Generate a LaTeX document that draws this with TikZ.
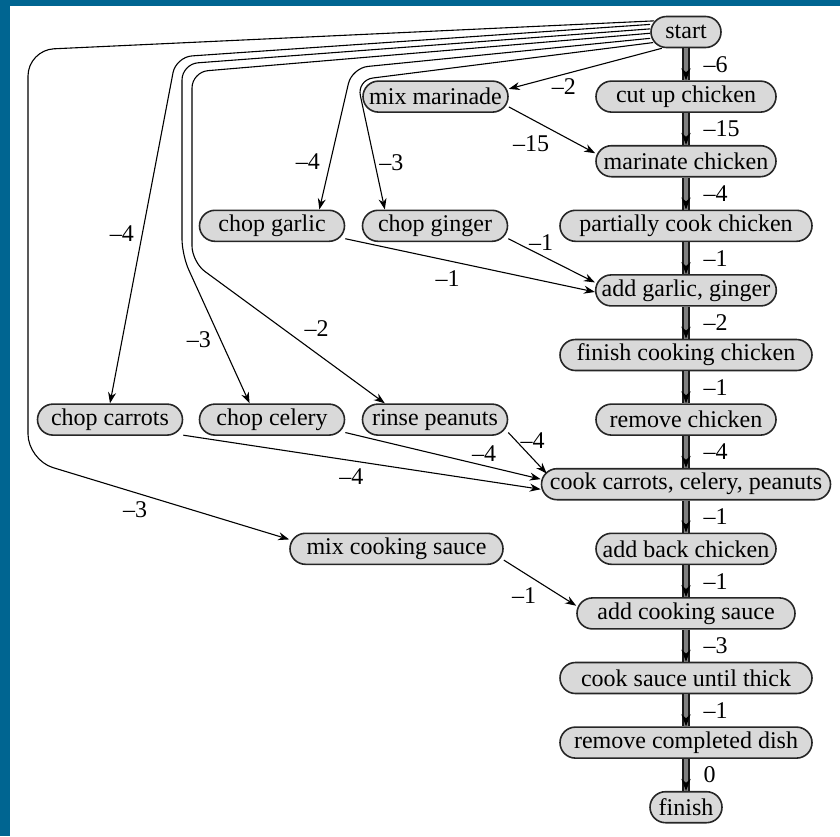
\documentclass[tikz,border=0pt]{standalone}
\usepackage{fontspec}
\setmainfont{Liberation Serif}[Ligatures=TeX]
\newfontfamily\dishfont{Liberation Serif}[Ligatures=TeX]
\usetikzlibrary{positioning,arrows.meta}
\definecolor{frameblue}{RGB}{0,101,145}
\tikzstyle{box}=[rectangle, rounded corners=7.75pt, draw=black!85, line width=0.8pt, fill=gray!30, minimum height=15.5pt, inner xsep=3pt, inner ysep=1pt, font=\dishfont\fontsize{12}{14}\selectfont]
\tikzstyle{wt}=[font=\dishfont\fontsize{12}{14}\selectfont, inner sep=2pt]
\tikzstyle{crit}=[-{Stealth[length=6pt,width=4.6pt,color=black]}, draw=black!50, line width=0.6pt, preaction={draw=black!90, line width=4pt, -}, preaction={draw=black!50, line width=2.4pt, -}]

\begin{document}
\begin{tikzpicture}[x=0.5pt, y=-0.5pt, line width=0.55pt, >={Stealth[length=5.5pt,width=4pt]}]
\useasboundingbox (0,0) rectangle (840,836);
\fill[frameblue] (0,0) rectangle (10,836);
\fill[frameblue] (0,0) rectangle (840,6);

% chicken steps, top to bottom
\node [box, minimum width=35pt] (start) at (686,32) {start};
\node [box, minimum width=90pt, below of=start, node distance=32.3pt] (cutup) {cut up chicken};
\node [box, minimum width=90pt, below of=cutup, node distance=32.3pt] (marinate) {marinate chicken};
\node [box, minimum width=126pt, below of=marinate, node distance=32.3pt] (partial) {partially cook chicken};
\node [box, minimum width=90pt, below of=partial, node distance=32.3pt] (addgg) {add garlic, ginger};
\node [box, minimum width=126pt, below of=addgg, node distance=32.3pt] (finishck) {finish cooking chicken};
\node [box, minimum width=90pt, below of=finishck, node distance=32.3pt] (removeck) {remove chicken};
\node [box, minimum width=144.5pt, below of=removeck, node distance=32.3pt] (cookccp) {cook carrots, celery, peanuts};
\node [box, minimum width=90pt, below of=cookccp, node distance=32.3pt] (addback) {add back chicken};
\node [box, minimum width=109pt, below of=addback, node distance=32.3pt] (addsauce) {add cooking sauce};
\node [box, minimum width=126pt, below of=addsauce, node distance=32.3pt] (cooksauce) {cook sauce until thick};
\node [box, minimum width=126pt, below of=cooksauce, node distance=32.3pt] (removedish) {remove completed dish};
\node [box, minimum width=36pt, below of=removedish, node distance=32.3pt] (finish) {finish};

% side jobs
\node [box, minimum width=72.5pt, left of=cutup, node distance=125.25pt] (mixmar) {mix marinade};
\node [box, minimum width=72.5pt, left of=partial, node distance=125.5pt] (chopginger) {chop ginger};
\node [box, minimum width=72.5pt, left of=chopginger, node distance=81.5pt] (chopgarlic) {chop garlic};
\node [box, minimum width=72.5pt, left of=removeck, node distance=125.5pt] (rinse) {rinse peanuts};
\node [box, minimum width=72.5pt, left of=rinse, node distance=81.5pt] (chopcelery) {chop celery};
\node [box, minimum width=72.5pt, left of=chopcelery, node distance=81pt] (chopcarrots) {chop carrots};
\node [box, minimum width=106.5pt, left of=addback, node distance=144.75pt] (mixsauce) {mix cooking sauce};

% critical path
\draw[crit] (start) -- node[wt, right=6.5pt] {--6} (cutup);
\draw[crit] (cutup) -- node[wt, right=6.5pt] {--15} (marinate);
\draw[crit] (marinate) -- node[wt, right=6.5pt] {--4} (partial);
\draw[crit] (partial) -- node[wt, right=6.5pt] {--1} (addgg);
\draw[crit] (addgg) -- node[wt, right=6.5pt] {--2} (finishck);
\draw[crit] (finishck) -- node[wt, right=6.5pt] {--1} (removeck);
\draw[crit] (removeck) -- node[wt, right=6.5pt] {--4} (cookccp);
\draw[crit] (cookccp) -- node[wt, right=6.5pt] {--1} (addback);
\draw[crit] (addback) -- node[wt, right=6.5pt] {--1} (addsauce);
\draw[crit] (addsauce) -- node[wt, right=6.5pt] {--3} (cooksauce);
\draw[crit] (cooksauce) -- node[wt, right=6.5pt] {--1} (removedish);
\draw[crit] (removedish) -- node[wt, right=6.5pt] {0} (finish);

% from start to the side jobs
\path[->] (start.214) edge node[wt, below, pos=.64] {--2} (mixmar.6);
\draw[->, rounded corners=13pt, shorten <=-2pt] (start.163) -- (28,50) -- (28,460) -- node[wt, below=2pt, pos=.41] {--3} (mixsauce.175);
\draw[->, rounded corners=8pt] (start.168) -- (176,57) -- node[wt, left=2pt, pos=.51] {--4} (chopcarrots.north);
\draw[->, rounded corners=8pt] (start.175) -- (182,64) -- (182,255) -- node[wt, left=2.5pt, pos=.57] {--3} (chopcelery.144);
\draw[->, rounded corners=8pt] (start.182) -- (192,72) -- (192,262) -- node[wt, above right, pos=.56] {--2} (rinse.162);
\draw[->, rounded corners=8pt] (start.190) -- (352,68) -- node[wt, left=3pt, pos=.66] {--4} (chopgarlic.19);
\draw[->, rounded corners=8pt, shorten <=-1.5pt] (start.197) -- (357,80) -- node[wt, right, pos=.64] {--3} (chopginger.162);

% side jobs into the chain
\path[->] (mixmar.352) edge node[wt, below left, pos=.52] {--15} (marinate.175);
\path[->] (chopgarlic.350) edge node[wt, below=3pt, pos=.41] {--1} (addgg.181);
\path[->] (chopginger.350) edge node[wt, above, pos=.38] {--1} (addgg.175);
\path[->] (chopcarrots.348) edge node[wt, below=2pt, pos=.47] {--4} (cookccp.182);
\path[->] (chopcelery.350) edge node[wt, above, pos=.71] {--4} (cookccp.178);
\path[->] (rinse.350) edge node[wt, right, pos=.2] {--4} ([xshift=3pt,yshift=-1pt]cookccp.175);
\path[->] (mixsauce.354) edge node[wt, below left, pos=.51] {--1} (addsauce.176);
\end{tikzpicture}
\end{document}
